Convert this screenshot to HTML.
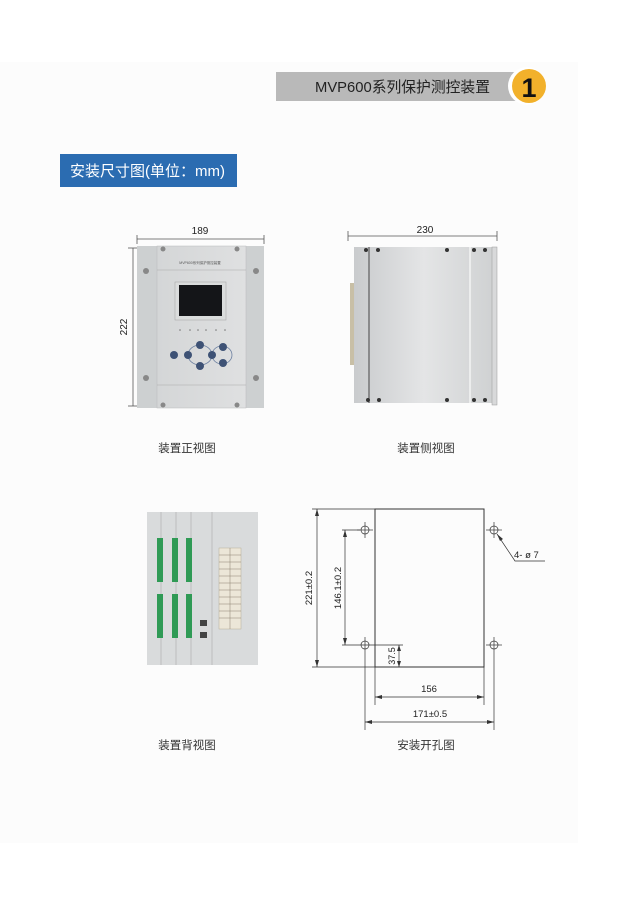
<!DOCTYPE html>
<html><head><meta charset="utf-8"><style>
body{margin:0;width:634px;height:898px;background:#fff;overflow:hidden;position:relative;font-family:"Liberation Sans","Noto Sans CJK SC",sans-serif}
.panel{position:absolute;left:0;top:62px;width:578px;height:781px;background:#fcfcfc}
svg{position:absolute;left:0;top:0}
</style></head><body>
<div class="panel"></div>
<svg width="634" height="898" viewBox="0 0 634 898" font-family="Liberation Sans, Noto Sans CJK SC, sans-serif">
<defs>
<linearGradient id="al" x1="0" x2="1"><stop offset="0" stop-color="#c9cbcd"/><stop offset=".5" stop-color="#e4e5e6"/><stop offset="1" stop-color="#cfd1d2"/></linearGradient>
<linearGradient id="fp" x1="0" x2="1"><stop offset="0" stop-color="#d4d6d7"/><stop offset="1" stop-color="#dfe0e1"/></linearGradient>
</defs>
<!-- header -->
<rect x="276" y="72" width="250" height="29" fill="#b9b9b9"/>
<text x="315" y="92" font-size="15" fill="#222" textLength="175" lengthAdjust="spacingAndGlyphs">MVP600系列保护测控装置</text>
<circle cx="527" cy="86" r="19" fill="#fff"/>
<circle cx="529" cy="86" r="17" fill="#f2b12b"/>
<text x="529" y="97" font-size="27" font-weight="bold" text-anchor="middle" fill="#111">1</text>
<rect x="60" y="154" width="177" height="33" fill="#2b6cb1"/>
<text x="70" y="176" font-size="15" fill="#fff">安装尺寸图(单位：mm)</text>

<!-- front view dims -->
<g stroke="#555" stroke-width="0.8" fill="none">
<line x1="137" y1="239" x2="264" y2="239"/><line x1="137" y1="235" x2="137" y2="244"/><line x1="264" y1="235" x2="264" y2="244"/>
<line x1="133" y1="248" x2="133" y2="406"/><line x1="128" y1="248" x2="140" y2="248"/><line x1="128" y1="406" x2="140" y2="406"/>
</g>
<text x="200" y="234" font-size="10" text-anchor="middle" fill="#222">189</text>
<text transform="translate(127,327) rotate(-90)" font-size="10" text-anchor="middle" fill="#222">222</text>
<!-- front device -->
<rect x="137" y="246" width="127" height="162" fill="#cdd0d1"/>
<rect x="157" y="246" width="89" height="162" fill="url(#fp)" stroke="#b8babb" stroke-width=".5"/>
<line x1="157" y1="270" x2="246" y2="270" stroke="#aaa" stroke-width=".6"/>
<line x1="157" y1="385" x2="246" y2="385" stroke="#aaa" stroke-width=".6"/>
<text x="200" y="264" font-size="3.5" text-anchor="middle" fill="#555">MVP600系列保护测控装置</text>
<rect x="175" y="282" width="51" height="38" fill="#dadcdc" stroke="#aaa" stroke-width=".6"/>
<rect x="179" y="285" width="43" height="31" fill="#141518"/>
<g fill="#777"><circle cx="180" cy="330" r=".8"/><circle cx="190" cy="330" r=".8"/><circle cx="198" cy="330" r=".8"/><circle cx="206" cy="330" r=".8"/><circle cx="216" cy="330" r=".8"/><circle cx="225" cy="330" r=".8"/></g>
<ellipse cx="200" cy="355" rx="12" ry="10" fill="none" stroke="#6b7fa0" stroke-width=".8"/>
<ellipse cx="222" cy="355" rx="10" ry="9" fill="none" stroke="#6b7fa0" stroke-width=".8"/>
<g fill="#3e5275"><circle cx="174" cy="355" r="4"/><circle cx="188" cy="355" r="4"/><circle cx="200" cy="345" r="4"/><circle cx="200" cy="366" r="4"/><circle cx="212" cy="355" r="4"/><circle cx="223" cy="347" r="4"/><circle cx="223" cy="363" r="4"/></g>
<g fill="#888"><circle cx="163" cy="249" r="2.5"/><circle cx="237" cy="249" r="2.5"/><circle cx="163" cy="405" r="2.5"/><circle cx="237" cy="405" r="2.5"/>
<circle cx="146" cy="271" r="3"/><circle cx="256" cy="271" r="3"/><circle cx="146" cy="378" r="3"/><circle cx="256" cy="378" r="3"/></g>
<text x="187" y="452" font-size="11.5" text-anchor="middle" fill="#333">装置正视图</text>

<!-- side view -->
<g stroke="#555" stroke-width="0.8" fill="none">
<line x1="348" y1="236" x2="497" y2="236"/><line x1="348" y1="231" x2="348" y2="241"/><line x1="497" y1="231" x2="497" y2="241"/>
</g>
<text x="425" y="233" font-size="10" text-anchor="middle" fill="#222">230</text>
<rect x="354" y="247" width="140" height="156" fill="url(#al)"/>
<rect x="492" y="247" width="5" height="158" fill="#d8d9da" stroke="#999" stroke-width=".5"/>
<line x1="369" y1="247" x2="369" y2="403" stroke="#444" stroke-width="1"/>
<line x1="470" y1="247" x2="470" y2="403" stroke="#f4f4f4" stroke-width="1.5"/>
<rect x="350" y="283" width="4" height="82" fill="#c8bfa6"/>
<g fill="#333"><circle cx="366" cy="250" r="2"/><circle cx="378" cy="250" r="2"/><circle cx="447" cy="250" r="2"/><circle cx="474" cy="250" r="2"/><circle cx="485" cy="250" r="2"/>
<circle cx="368" cy="400" r="2"/><circle cx="379" cy="400" r="2"/><circle cx="447" cy="400" r="2"/><circle cx="474" cy="400" r="2"/><circle cx="485" cy="400" r="2"/></g>
<text x="426" y="452" font-size="11.5" text-anchor="middle" fill="#333">装置侧视图</text>

<!-- back view -->
<rect x="147" y="512" width="111" height="153" fill="#d9dbdc"/>
<g stroke="#aaa" stroke-width=".6"><line x1="161" y1="512" x2="161" y2="665"/><line x1="176" y1="512" x2="176" y2="665"/><line x1="191" y1="512" x2="191" y2="665"/><line x1="212" y1="512" x2="212" y2="665"/></g>
<g fill="#2f9a55"><rect x="157" y="538" width="6" height="44"/><rect x="172" y="538" width="6" height="44"/><rect x="186" y="538" width="6" height="44"/>
<rect x="157" y="594" width="6" height="44"/><rect x="172" y="594" width="6" height="44"/><rect x="186" y="594" width="6" height="44"/></g>
<rect x="219" y="548" width="22" height="81" fill="#ece6d8" stroke="#b8ae98" stroke-width=".5"/>
<g stroke="#8a8070" stroke-width=".5"><line x1="230" y1="548" x2="230" y2="629"/>
<line x1="219" y1="555" x2="241" y2="555"/><line x1="219" y1="562" x2="241" y2="562"/><line x1="219" y1="569" x2="241" y2="569"/><line x1="219" y1="576" x2="241" y2="576"/><line x1="219" y1="583" x2="241" y2="583"/><line x1="219" y1="590" x2="241" y2="590"/><line x1="219" y1="597" x2="241" y2="597"/><line x1="219" y1="604" x2="241" y2="604"/><line x1="219" y1="611" x2="241" y2="611"/><line x1="219" y1="618" x2="241" y2="618"/></g>
<rect x="200" y="620" width="7" height="6" fill="#444"/><rect x="200" y="632" width="7" height="6" fill="#444"/>
<text x="187" y="749" font-size="11.5" text-anchor="middle" fill="#333">装置背视图</text>

<!-- cutout -->
<g stroke="#333" stroke-width="0.7" fill="none">
<rect x="375" y="509" width="109" height="158" stroke-width="1"/>
<circle cx="365" cy="530" r="4"/><circle cx="494" cy="530" r="4"/><circle cx="365" cy="645" r="4"/><circle cx="494" cy="645" r="4"/>
<line x1="357" y1="530" x2="373" y2="530"/><line x1="365" y1="522" x2="365" y2="538"/>
<line x1="486" y1="530" x2="502" y2="530"/><line x1="494" y1="522" x2="494" y2="538"/>
<line x1="486" y1="645" x2="502" y2="645"/><line x1="494" y1="637" x2="494" y2="653"/>
<line x1="342" y1="645" x2="403" y2="645"/><line x1="365" y1="637" x2="365" y2="730"/>
<line x1="342" y1="530" x2="360" y2="530"/>
<line x1="312" y1="509" x2="375" y2="509"/><line x1="312" y1="667" x2="375" y2="667"/>
<line x1="317" y1="509" x2="317" y2="667"/>
<line x1="345" y1="530" x2="345" y2="645"/>
<line x1="399" y1="645" x2="399" y2="667"/>
<line x1="375" y1="667" x2="375" y2="705"/><line x1="484" y1="667" x2="484" y2="705"/>
<line x1="494" y1="653" x2="494" y2="730"/>
<line x1="375" y1="697" x2="484" y2="697"/>
<line x1="365" y1="722" x2="494" y2="722"/>
<polyline points="497,534 515,561 545,561"/>
</g>
<g fill="#333">
<path d="M317,509 l-2,7 h4z M317,667 l-2,-7 h4z M345,530 l-2,7 h4z M345,645 l-2,-7 h4z M399,645 l-2,6 h4z M399,667 l-2,-6 h4z
M375,697 l7,-2 v4z M484,697 l-7,-2 v4z M365,722 l7,-2 v4z M494,722 l-7,-2 v4z M497,534 l6,5 -3,2z"/>
</g>
<text transform="translate(312,588) rotate(-90)" font-size="9.5" text-anchor="middle" fill="#222">221±0.2</text>
<text transform="translate(341,588) rotate(-90)" font-size="9.5" text-anchor="middle" fill="#222">146.1±0.2</text>
<text transform="translate(395,656) rotate(-90)" font-size="9" text-anchor="middle" fill="#222">37.5</text>
<text x="429" y="692" font-size="9.5" text-anchor="middle" fill="#222">156</text>
<text x="430" y="717" font-size="9.5" text-anchor="middle" fill="#222">171±0.5</text>
<text x="514" y="558" font-size="9.5" fill="#222">4- ø 7</text>
<text x="426" y="749" font-size="11.5" text-anchor="middle" fill="#333">安装开孔图</text>
</svg>
</body></html>
